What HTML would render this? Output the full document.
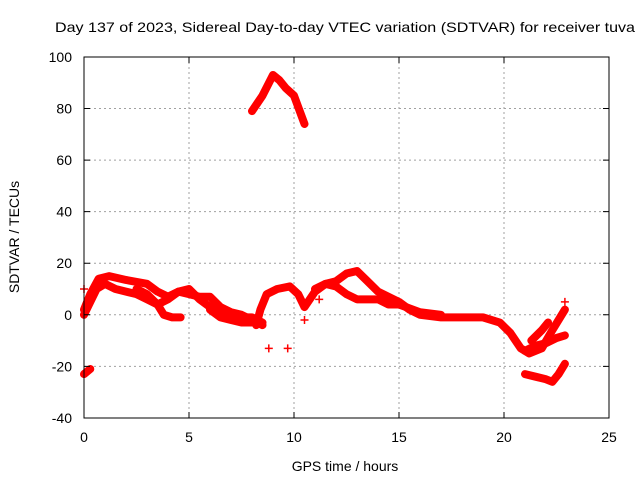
<!DOCTYPE html>
<html><head><meta charset="utf-8"><style>
body{margin:0;background:#fff}
svg{display:block;font-family:"Liberation Sans",sans-serif;font-size:14px}
</style></head><body>
<svg id="chart" width="640" height="480">
<text x="345" y="32" text-anchor="middle" textLength="580" lengthAdjust="spacingAndGlyphs">Day 137 of 2023, Sidereal Day-to-day VTEC variation (SDTVAR) for receiver tuva</text>
<g id="grid"></g>
<g id="series"></g>
<rect x="84" y="57" width="525" height="361" fill="none" stroke="#000"/>
<g id="axes"></g>
<text x="345" y="471" text-anchor="middle">GPS time / hours</text>
<text transform="translate(19,237) rotate(-90)" text-anchor="middle">SDTVAR / TECUs</text>
</svg>
<script>
const xTicks=[0,5,10,15,20,25];
const yTicks=[-40,-20,0,20,40,60,80,100];
const track1=[[0,2],[0.3,8],[0.7,14],[1.2,15],[2,13.5],[3,12],[3.5,9],[4,7],[4.5,9],[5,8],[5.5,7],[6,7],[6.5,3],[7,1],[7.5,0],[8,-2],[8.5,-4]];
const track2=[[0,0],[0.3,5],[0.6,10],[1,12],[1.5,10],[2,9],[2.5,8],[3,6],[3.5,4],[4,6],[4.5,9],[5,10],[5.5,6],[6,3],[6.5,0],[7,-1],[8,-1],[8.5,-3]];
const track3=[[2.5,10],[3,8],[3.5,4],[3.8,0],[4.2,-1],[4.6,-1]];
const track4=[[8.2,-4],[8.4,2],[8.7,8],[9.2,10],[9.8,11],[10.2,8],[10.5,3],[11,9],[11.5,12],[12,13],[12.5,16],[13,17],[13.5,13],[14,9],[15,5],[15.5,2],[16,0],[17,-1],[18,-1],[19,-1],[19.8,-3],[20.3,-7],[20.8,-13],[21.2,-15],[21.8,-13],[22.3,-6],[22.9,2]];
const track5=[[11,10],[11.5,12],[12,11],[12.5,8],[13,6],[14,6],[14.5,4],[15,4],[16,1],[17,0]];
const track6=[[21,-14],[21.5,-12],[22,-11],[22.5,-9],[22.9,-8]];
const track7=[[21.3,-10],[21.8,-6],[22.1,-3]];
const track8=[[21,-23],[21.5,-24],[22,-25],[22.3,-26],[22.6,-23],[22.9,-19]];
const track9=[[8,79],[8.5,85],[9,93],[9.3,91],[9.6,88],[10,85],[10.5,74]];
const track10=[[0,-23],[0.3,-21]];
const track11=[[6,2],[6.5,-1],[7,-2],[7.5,-3],[8,-3]];
const isolated=[[8.8,-13],[9.7,-13],[22.9,5],[0,10],[10.5,-2],[11.2,6]];
const tracks=[track1,track2,track3,track4,track5,track6,track7,track8,track9,track10,track11];
const X=h=>84+21*h, Y=v=>314.8-2.5786*v;
const NS="http://www.w3.org/2000/svg";
function mk(t,a,p){const e=document.createElementNS(NS,t);for(const k in a)e.setAttribute(k,a[k]);p.appendChild(e);return e;}
const grid=document.getElementById('grid'),axes=document.getElementById('axes'),ser=document.getElementById('series');
xTicks.forEach(t=>{
 if(t>0&&t<25){const l=mk('line',{x1:X(t),x2:X(t),y1:57,y2:418,stroke:'#a0a0a0','stroke-dasharray':'2,3'},grid);
 }
 const tk=mk('path',{d:`M${X(t)},418v-6M${X(t)},57v6`,stroke:'#000'},axes);
 
 const tx=mk('text',{x:X(t),y:442,'text-anchor':'middle'},axes);tx.textContent=t;
 
});
yTicks.forEach(t=>{
 if(t>-40&&t<100){const l=mk('line',{x1:84,x2:609,y1:Y(t),y2:Y(t),stroke:'#a0a0a0','stroke-dasharray':'2,3'},grid);
 }
 const tk=mk('path',{d:`M84,${Y(t)}h6M609,${Y(t)}h-6`,stroke:'#000'},axes);
 
 const tx=mk('text',{x:72,y:Y(t)+5,'text-anchor':'end'},axes);tx.textContent=t;
 
});
tracks.forEach(tr=>{
 const p=mk('polyline',{points:tr.map(d=>X(d[0])+','+Y(d[1])).join(' '),fill:'none',stroke:'#f00','stroke-width':8,'stroke-linejoin':'round','stroke-linecap':'round'},ser);
 
});
isolated.forEach(d=>{
 const m=mk('path',{d:`M${X(d[0])-4},${Y(d[1])}h8M${X(d[0])},${Y(d[1])-4}v8`,stroke:'#f00','stroke-width':1.5},ser);
 
});
</script>
</body></html>
